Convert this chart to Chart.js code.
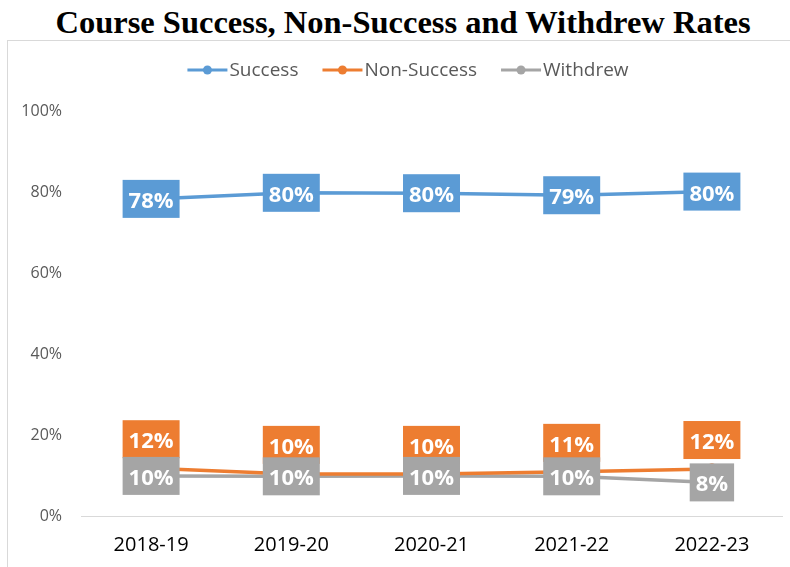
<!DOCTYPE html>
<html>
<head>
<meta charset="utf-8">
<title>Course Success, Non-Success and Withdrew Rates</title>
<script src="https://cdn.jsdelivr.net/npm/chart.js@4.4.0/dist/chart.umd.min.js"></script>
<style>
    body { margin: 0; background: #fff; width: 790px; height: 567px; overflow: hidden; position: relative; }
    #title {
        position: absolute; left: 8px; top: 6px; width: 790px;
        text-align: center; font: bold 32.5px "Liberation Serif", serif; line-height: 32px; color: #000;
    }
    #frame { position: absolute; left: 7px; top: 40px; width: 800px; height: 540px; border: 1px solid #d9d9d9; }
    #wrap { position: absolute; left: 0; top: 0; width: 782px; height: 526px; }
</style>
</head>
<body>
<div id="title">Course Success, Non-Success and Withdrew Rates</div>
<div id="frame"><div id="wrap"><canvas id="ratesChart"></canvas></div></div>
<script>
const years = ["2018-19", "2019-20", "2020-21", "2021-22", "2022-23"];
const successRates = [78.3, 79.8, 79.7, 79.2, 80.1];
const nonSuccessRates = [11.8, 10.4, 10.4, 10.9, 11.6];
const withdrewRates = [9.9, 9.8, 9.9, 9.8, 8.3];
const yTicks = [0, 20, 40, 60, 80, 100];

const colors = {
    blue: "#5b9bd5",
    orange: "#ed7d31",
    gray: "#a5a5a5",
};

Chart.defaults.font.family = '"Open Sans", sans-serif';

// legend drawn by hand: short line with a dot, like the spreadsheet legend
const lineLegend = {
    id: "lineLegend",
    afterDraw(chart) {
        const ctx = chart.ctx;
        const sets = chart.data.datasets;
        const markW = 40, gap = 2, itemGap = 24, y = 29;
        ctx.save();
        ctx.font = '19px "Open Sans"';
        const widths = sets.map((ds) => markW + gap + ctx.measureText(ds.label).width);
        const total = widths.reduce((a, b) => a + b, 0) + itemGap * (sets.length - 1);
        let x = chart.width / 2 + 9 - total / 2;
        sets.forEach((ds, i) => {
            ctx.strokeStyle = ds.borderColor;
            ctx.fillStyle = ds.borderColor;
            ctx.lineWidth = 3;
            ctx.beginPath();
            ctx.moveTo(x, y);
            ctx.lineTo(x + markW, y);
            ctx.stroke();
            ctx.beginPath();
            ctx.arc(x + markW / 2, y, 4.5, 0, Math.PI * 2);
            ctx.fill();
            ctx.fillStyle = "#595959";
            ctx.textBaseline = "middle";
            ctx.textAlign = "left";
            ctx.fillText(ds.label, x + markW + gap, y + 1);
            x += widths[i] + itemGap;
        });
        ctx.restore();
    },
};

// value boxes filled with the series colour
const boxLabels = {
    id: "boxLabels",
    afterDatasetsDraw(chart) {
        const ctx = chart.ctx;
        ctx.save();
        ctx.font = 'bold 22px "Open Sans"';
        ctx.textAlign = "center";
        ctx.textBaseline = "alphabetic";
        chart.data.datasets.forEach((ds, di) => {
            const meta = chart.getDatasetMeta(di);
            meta.data.forEach((pt, i) => {
                const text = Math.round(ds.data[i]) + "%";
                const w = ctx.measureText(text).width + 12;
                const h = 38;
                const cy = ds.labelAbove ? pt.y - 29 : pt.y;
                ctx.fillStyle = ds.borderColor;
                ctx.fillRect(pt.x - w / 2, cy - h / 2, w, h);
                ctx.fillStyle = "#fff";
                ctx.fillText(text, pt.x, cy + 9);
            });
        });
        ctx.restore();
    },
};

new Chart(document.getElementById("ratesChart"), {
    type: "line",
    data: {
        labels: years,
        datasets: [
            {
                label: "Success",
                data: successRates,
                borderColor: colors.blue,
                backgroundColor: colors.blue,
                borderWidth: 3.5,
                pointRadius: 4,
                labelAbove: false,
            },
            {
                label: "Non-Success",
                data: nonSuccessRates,
                borderColor: colors.orange,
                backgroundColor: colors.orange,
                borderWidth: 3.5,
                pointRadius: 4,
                labelAbove: true,
            },
            {
                label: "Withdrew",
                data: withdrewRates,
                borderColor: colors.gray,
                backgroundColor: colors.gray,
                borderWidth: 3.5,
                pointRadius: 4,
                labelAbove: false,
            },
        ],
    },
    options: {
        responsive: true,
        maintainAspectRatio: false,
        animation: false,
        layout: { padding: { top: 70, right: 8, bottom: 10, left: 0 } },
        plugins: {
            legend: { display: false },
            tooltip: { enabled: false },
        },
        scales: {
            x: {
                offset: true,
                grid: { display: false, drawTicks: false },
                border: { display: true, color: "#d9d9d9", width: 1 },
                afterFit(scale) {
                    scale.height = 41;
                },
                ticks: { color: "#000", font: { size: 20 }, padding: 17 },
            },
            y: {
                min: 0,
                max: 100,
                grid: { display: false, drawTicks: false },
                border: { display: false },
                afterBuildTicks(scale) {
                    scale.ticks = yTicks.map((v) => ({ value: v }));
                },
                afterFit(scale) {
                    scale.width = 73;
                },
                ticks: {
                    color: "#595959",
                    font: { size: 16 },
                    padding: 19,
                    callback: (v) => v + "%",
                },
            },
        },
    },
    plugins: [lineLegend, boxLabels],
});
</script>
</body>
</html>
